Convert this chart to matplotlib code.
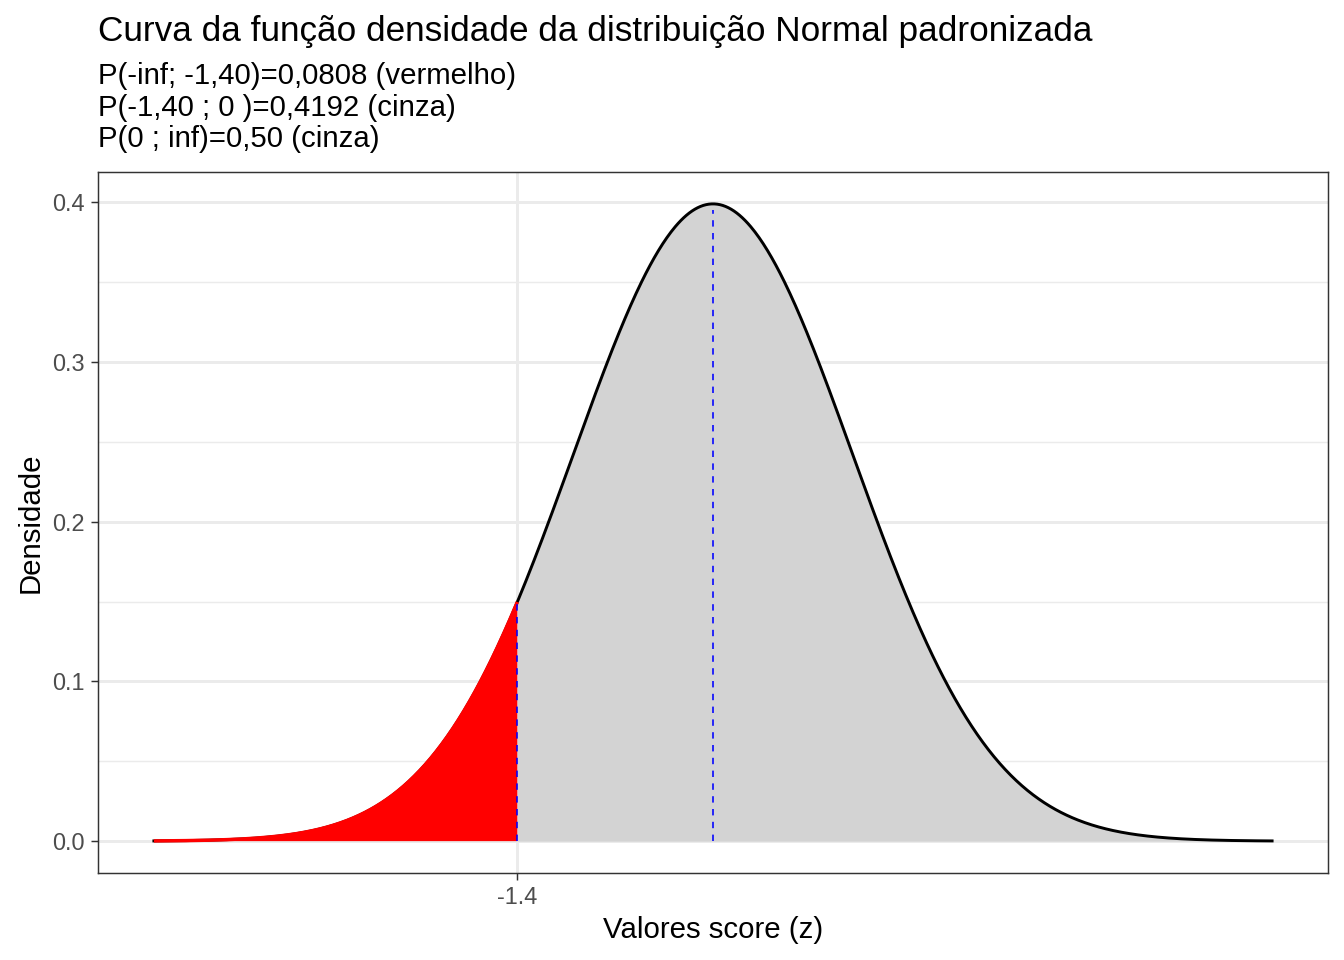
import numpy as np
import matplotlib
matplotlib.use("Agg")
import matplotlib.pyplot as plt

plt.rcParams['font.family'] = ['Liberation Sans', 'DejaVu Sans']

# distribution parameters
media = 0.0
desvio = 1.0
z_corte = -1.4
z_min, z_max = -4.0, 4.0

x_ticks = [-1.4]
x_tick_labels = ["-1.4"]
y_ticks = [0.0, 0.1, 0.2, 0.3, 0.4]
y_tick_labels = ["0.0", "0.1", "0.2", "0.3", "0.4"]

titulo = "Curva da função densidade da distribuição Normal padronizada"
subtitulo = ["P(-inf; -1,40)=0,0808 (vermelho)",
             "P(-1,40 ; 0 )=0,4192 (cinza)",
             "P(0 ; inf)=0,50 (cinza)"]


def dnorm(z):
    return np.exp(-0.5 * ((z - media) / desvio) ** 2) / (desvio * np.sqrt(2 * np.pi))


z = np.linspace(z_min, z_max, 801)
d = dnorm(z)
z_esq = np.linspace(z_min, z_corte, 400)
z_dir = np.linspace(z_corte, z_max, 600)

fig = plt.figure(figsize=(7, 5), dpi=192)
ax = fig.add_axes([98 / 1344, 1 - 873 / 960, (1328 - 98) / 1344, (873 - 172) / 960])

# grid (theme_bw look)
for yv in [0.05, 0.15, 0.25, 0.35]:
    ax.axhline(yv, color="#ebebeb", lw=0.55, zorder=0)
for yv in y_ticks:
    ax.axhline(yv, color="#ebebeb", lw=1.1, zorder=0)
for xv in x_ticks:
    ax.axvline(xv, color="#ebebeb", lw=1.1, zorder=0)

ax.fill_between(z_dir, 0, dnorm(z_dir), color="#d3d3d3", lw=0, zorder=1)
ax.plot(z, d, color="black", lw=1.1, zorder=2)
ax.fill_between(z_esq, 0, dnorm(z_esq), facecolor="red", lw=0, zorder=3)
ax.plot(z_esq, dnorm(z_esq), color="red", lw=1.3, zorder=3, solid_capstyle="butt")

ax.plot([z_corte, z_corte], [0, dnorm(z_corte)], color="blue", lw=0.6, ls=(0, (4, 4)), zorder=4)
ax.plot([media, media], [0, dnorm(media) * 0.99], color="blue", lw=0.6, ls=(0, (4, 4)), zorder=4)

ax.set_xlim(z_min - 0.4, z_max + 0.4)
ax.set_ylim(-0.01995, 0.4189)
ax.set_xticks(x_ticks)
ax.set_xticklabels(x_tick_labels)
ax.set_yticks(y_ticks)
ax.set_yticklabels(y_tick_labels)
ax.tick_params(colors="#333333", labelsize=8.8, length=2.75, width=0.55, pad=2.2, labelcolor="#4d4d4d")
for s in ax.spines.values():
    s.set_color("#333333")
    s.set_linewidth(0.55)

ax.set_xlabel("Valores score (z)", fontsize=11, labelpad=2.5)
ax.set_ylabel("Densidade", fontsize=11, labelpad=3)

fig.text(98 / 1344, 1 - 32 / 960, titulo, fontsize=13.2, va="center", ha="left")
for i, linha in enumerate(subtitulo):
    fig.text(98 / 1344, 1 - (76 + 31.5 * i) / 960, linha, fontsize=11, va="center", ha="left")

fig.savefig("out.png", dpi=192)
